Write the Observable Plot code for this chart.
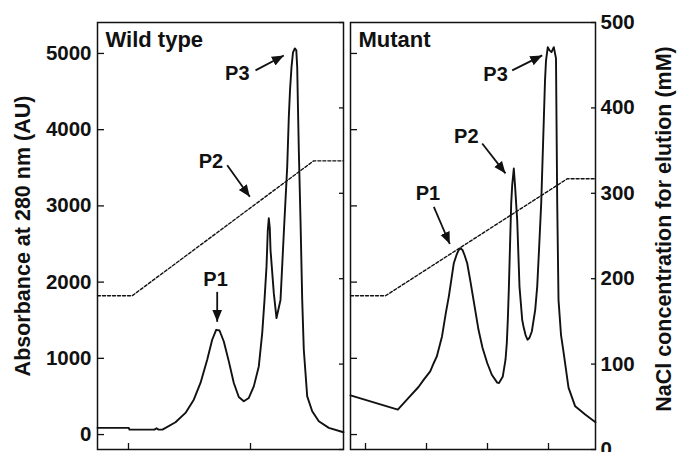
<!DOCTYPE html>
<html>
<head>
<meta charset="utf-8">
<script src="https://cdn.jsdelivr.net/npm/d3@7"></script>
<script src="https://cdn.jsdelivr.net/npm/@observablehq/plot@0.6"></script>
<style>
  html, body { margin: 0; padding: 0; background: #fff; }
  #wrap { display: flex; width: 677px; height: 452px; overflow: hidden; }
  #wrap svg { display: block; flex: none; }
</style>
</head>
<body>
<div id="wrap"></div>
<script>
// ---- tick values ----
const absTicks = [0, 1000, 2000, 3000, 4000, 5000];
const saltTicks = [0, 100, 200, 300, 400, 500];
const wtVolumeTicks = [20, 70];
const mutVolumeTicks = [20, 45, 70, 95];
const panelTitles = ["Wild type", "Mutant"];
const peakNames = ["P1", "P2", "P3"];
const absLabel = "Absorbance at 280 nm (AU)";
const saltLabel = "NaCl concentration for elution (mM)";

// ---- Wild type absorbance trace (elution volume, AU) ----
const wtVolume = [7.30, 20.12, 20.41, 30.66, 31.48, 32.30, 33.93, 39.26, 43.36, 46.76, 49.51, 52.25, 54.30, 55.94, 57.30, 59.06, 61.11, 63.16, 65.20, 67.25, 69.30, 71.35, 73.40, 74.80, 75.74, 76.56, 77.09, 77.50, 77.91, 78.20, 79.55, 80.66, 81.68, 82.30, 83.65, 85.04, 85.70, 86.19, 86.80, 87.42, 88.16, 88.77, 89.14, 89.39, 89.80, 90.49, 91.19, 91.84, 93.24, 95.29, 97.99, 102.09, 108.11];
const wtAbs = [88, 88, 65, 65, 82, 65, 65, 161, 284, 458, 677, 982, 1244, 1374, 1365, 1221, 960, 677, 493, 436, 480, 632, 894, 1331, 1767, 2203, 2683, 2837, 2710, 2422, 1855, 1528, 1676, 1767, 2644, 3512, 4167, 4516, 4821, 5013, 5066, 5040, 4821, 4385, 3731, 2814, 1767, 1113, 501, 305, 174, 88, 30];

// ---- Mutant absorbance trace ----
const mutVolume = [13.85, 33.24, 37.62, 41.72, 43.89, 46.52, 47.99, 49.22, 51.35, 52.91, 54.14, 56.19, 57.30, 58.11, 58.93, 59.75, 60.57, 61.68, 63.03, 64.47, 66.31, 67.95, 69.88, 71.76, 73.98, 74.71, 76.27, 77.38, 77.91, 78.32, 78.73, 79.14, 79.71, 80.12, 80.78, 81.27, 82.17, 83.11, 84.22, 84.75, 85.57, 86.39, 87.21, 88.16, 89.55, 90.37, 91.11, 92.01, 93.07, 93.57, 93.98, 94.71, 95.41, 96.23, 97.17, 98.07, 98.28, 98.57, 99.10, 100.12, 101.15, 103.20, 105.94, 110.04, 114.26];
const mutAbs = [514, 327, 480, 624, 720, 829, 939, 1025, 1287, 1593, 1810, 2248, 2356, 2415, 2444, 2422, 2356, 2248, 2003, 1728, 1374, 1139, 939, 785, 681, 677, 763, 982, 1200, 1505, 1898, 2378, 3033, 3273, 3491, 3273, 2814, 1941, 1505, 1418, 1309, 1244, 1270, 1352, 1636, 1941, 2422, 3033, 4123, 4647, 4909, 5083, 5040, 5017, 5083, 4935, 4123, 3037, 1767, 1309, 1086, 615, 370, 262, 161];

// ---- NaCl gradient (mM) ----
const wtSaltVolume = [7.30, 21.5, 95.9, 108.11];
const wtSalt = [180, 180, 338, 338];
const mutSaltVolume = [13.85, 28.2, 102.7, 114.26];
const mutSalt = [180, 180, 317, 317];

// ---- peak annotations (volume, AU) ----
const wtLabelVolume = [55.7, 53.8, 64.6];
const wtLabelAbs = [2029, 3580, 4735];
const wtArrowStart = [[56.35, 1872], [60.45, 3534], [72.05, 4778]];
const wtArrowEnd = [[56.35, 1479], [69.71, 3119], [83.65, 4974]];
const mutLabelVolume = [45.6, 61.3, 73.3];
const mutLabelAbs = [3164, 3905, 4723];
const mutArrowStart = [[48.0, 2988], [67.83, 3818], [80.12, 4778]];
const mutArrowEnd = [[54.55, 2500], [77.38, 3426], [92.42, 4974]];

// ---- scales ----
const yDomain = [-196, 5406];           // absorbance spanned by the frame
const saltToAbs = n => yDomain[0] + n * (yDomain[1] - yDomain[0]) / 500;
const absToSalt = a => Math.round((a - yDomain[0]) * 500 / (yDomain[1] - yDomain[0]));
const FONT = "'Liberation Sans', Arial, Helvetica, sans-serif";
const INK = "#111";

function panel(o, idx) {
  const trace = o.volume.map((v, i) => ({v, a: o.abs[i]}));
  const salt = o.saltVolume.map((v, i) => ({v, a: saltToAbs(o.salt[i])}));
  const labels = peakNames.map((p, i) => ({p, v: o.labelVolume[i], a: o.labelAbs[i]}));
  const arrows = peakNames.map((p, i) => ({x1: o.arrowStart[i][0], y1: o.arrowStart[i][1], x2: o.arrowEnd[i][0], y2: o.arrowEnd[i][1]}));
  const marks = [
    Plot.axisX(o.xTicks, {anchor: "bottom", tickSize: -6, tickFormat: () => "", label: null, strokeWidth: 1.3}),
    Plot.axisY(absTicks, {
      anchor: "left", tickSize: -7, tickPadding: 13, strokeWidth: 1.3, fontSize: 20.5,
      tickFormat: o.leftLabels ? (d => String(d)) : () => "", label: null
    }),
    Plot.axisY(saltTicks.map(saltToAbs), {
      anchor: "right", tickSize: -5, tickPadding: 10, strokeWidth: 1.3, fontSize: 20.5,
      tickFormat: o.rightLabels ? (a => String(absToSalt(a))) : () => "", label: null
    }),
    Plot.line(salt, {x: "v", y: "a", stroke: INK, strokeWidth: 1.4, strokeDasharray: "3,2"}),
    Plot.line(trace, {x: "v", y: "a", stroke: INK, strokeWidth: 1.9, strokeLinejoin: "round"}),
    Plot.link(arrows, {x1: "x1", y1: "y1", x2: "x2", y2: "y2", stroke: INK, strokeWidth: 1.8, strokeLinecap: "butt"}),
    Plot.text(labels, {x: "v", y: "a", text: "p", fontSize: 20, fill: INK}),
    Plot.text([o.title], {frameAnchor: "top-left", dx: 8, dy: 9, lineAnchor: "top", textAnchor: "start", fontSize: 22, fill: INK}),
    Plot.frame({stroke: INK, strokeWidth: 1.5})
  ];
  if (o.leftLabels) marks.push(Plot.text([absLabel], {frameAnchor: "left", dx: -74, rotate: -90, textAnchor: "middle", lineAnchor: "middle", fontSize: 21.5, fill: INK}));
  if (o.rightLabels) marks.push(Plot.text([saltLabel], {frameAnchor: "right", dx: 69, dy: -7, rotate: -90, textAnchor: "middle", lineAnchor: "middle", fontSize: 21.5, fill: INK}));
  const svg = Plot.plot({
    width: o.width, height: 452,
    marginLeft: o.marginLeft, marginRight: o.marginRight, marginTop: 22, marginBottom: 3,
    x: {domain: o.xDomain},
    y: {domain: yDomain},
    style: {fontFamily: FONT, fontWeight: "bold", color: INK, background: "white", overflow: "visible"},
    marks
  });
  // filled arrowheads on the annotation links
  const id = "head" + idx;
  const defs = document.createElementNS("http://www.w3.org/2000/svg", "defs");
  defs.innerHTML = `<marker id="${id}" viewBox="0 0 10 10" refX="10" refY="5" markerWidth="12" markerHeight="12" markerUnits="userSpaceOnUse" orient="auto"><path d="M0,0.9L10,5L0,9.1Z" fill="${INK}"/></marker>`;
  svg.insertBefore(defs, svg.firstChild);
  svg.querySelectorAll('g[aria-label="link"] path').forEach(p => p.setAttribute("marker-end", `url(#${id})`));
  return svg;
}

const wrap = document.getElementById("wrap");
wrap.append(panel({
  title: panelTitles[0], width: 347, marginLeft: 97, marginRight: 4,
  xDomain: [7.30, 108.11], xTicks: wtVolumeTicks,
  volume: wtVolume, abs: wtAbs, saltVolume: wtSaltVolume, salt: wtSalt,
  labelVolume: wtLabelVolume, labelAbs: wtLabelAbs, arrowStart: wtArrowStart, arrowEnd: wtArrowEnd,
  leftLabels: true, rightLabels: false
}, 0));
wrap.append(panel({
  title: panelTitles[1], width: 330, marginLeft: 3, marginRight: 82,
  xDomain: [13.85, 114.26], xTicks: mutVolumeTicks,
  volume: mutVolume, abs: mutAbs, saltVolume: mutSaltVolume, salt: mutSalt,
  labelVolume: mutLabelVolume, labelAbs: mutLabelAbs, arrowStart: mutArrowStart, arrowEnd: mutArrowEnd,
  leftLabels: false, rightLabels: true
}, 1));
</script>
</body>
</html>
